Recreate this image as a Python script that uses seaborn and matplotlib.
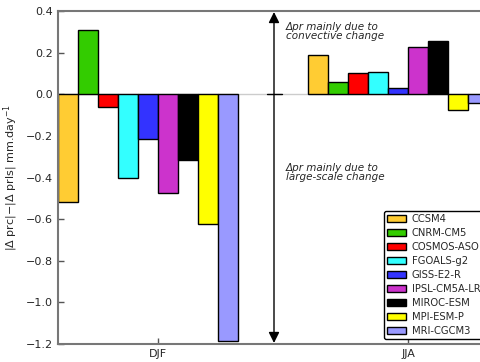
import seaborn as sns
import matplotlib.pyplot as plt
import pandas as pd

seasons = ['DJF', 'JJA']
models = ['CCSM4', 'CNRM-CM5', 'COSMOS-ASO', 'FGOALS-g2', 'GISS-E2-R',
          'IPSL-CM5A-LR', 'MIROC-ESM', 'MPI-ESM-P', 'MRI-CGCM3']
djf = [-0.52, 0.31, -0.063, -0.40, -0.216, -0.475, -0.317, -0.625, -1.187]
jja = [0.189, 0.057, 0.102, 0.108, 0.029, 0.227, 0.258, -0.077, -0.042]
colors = ['#FFCC33', '#33CC00', '#FF0000', '#33FFFF', '#3333FF',
          '#CC33CC', '#000000', '#FFFF00', '#9999FF']

df = pd.DataFrame({
    'season': ['DJF'] * 9 + ['JJA'] * 9,
    'model': models * 2,
    'value': djf + jja,
})

sns.set_style('white')
plt.rcParams['font.family'] = ['DejaVu Sans']

fig = plt.figure(figsize=(4.81, 3.62), dpi=100)
ax = fig.add_axes([58 / 481, 18 / 362, 450 / 481, 333 / 362])

ax.axhline(0, color='#cccccc', lw=1, zorder=0)
sns.barplot(data=df, x='season', y='value', hue='model', hue_order=models,
            order=seasons, palette=colors, saturation=1, width=0.72,
            edgecolor='black', linewidth=1, errorbar=None, ax=ax)

ax.set_xlim(-0.36, -0.36 + 1.8)
ax.set_ylim(-1.2, 0.4)
ax.set_yticks([-1.2, -1.0, -0.8, -0.6, -0.4, -0.2, 0.0, 0.2, 0.4])
ax.set_xticks([0.04, 1.04])
ax.set_xticklabels(seasons)
ax.set_xlabel('')
ax.set_ylabel(r'|$\Delta$ prc|$-$|$\Delta$ prls| mm.day$^{-1}$', fontsize=8)
ax.tick_params(direction='in', length=4, width=1, labelsize=8, color='#555555',
               left=True, bottom=True)
for s in ax.spines.values():
    s.set_color('#777777')
    s.set_linewidth(1.5)

# double arrow separating the two regimes
xa = 0.504
ax.annotate('', xy=(xa, 0.395), xytext=(xa, -1.195),
            arrowprops=dict(arrowstyle='<|-|>', color='black', lw=1,
                            mutation_scale=16, shrinkA=0, shrinkB=0))
ax.plot([0.476, 0.536], [0, 0], color='black', lw=1)
ax.text(0.552, 0.30, 'Δpr mainly due to\nconvective change', style='italic',
        fontsize=7.5, va='center', ha='left', linespacing=0.9)
ax.text(0.552, -0.375, 'Δpr mainly due to\nlarge-scale change', style='italic',
        fontsize=7.5, va='center', ha='left', linespacing=0.9)

handles, labels = ax.get_legend_handles_labels()
ax.legend(handles, labels, loc='upper left', bbox_to_anchor=(384 / 481, 151 / 362),
          bbox_transform=fig.transFigure, fontsize=7.2, frameon=True,
          edgecolor='black', framealpha=1, fancybox=True, handlelength=1.9,
          handleheight=0.75, labelspacing=0.4, borderpad=0.3, borderaxespad=0,
          handletextpad=0.6)

fig.savefig('out.png', dpi=100)
